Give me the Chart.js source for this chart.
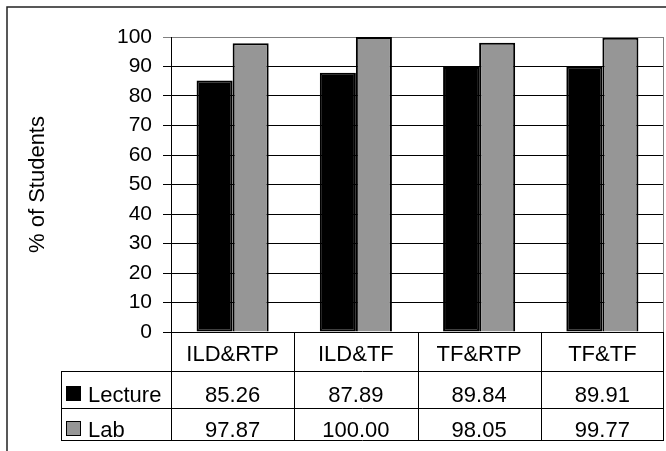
<!DOCTYPE html>
<html>
<head>
<meta charset="utf-8">
<script src="https://cdn.jsdelivr.net/npm/chart.js@4/dist/chart.umd.min.js"></script>
<style>
html,body{margin:0;padding:0;background:#fff}
#wrap{width:666px;height:451px;position:relative}
</style>
</head>
<body>
<div id="wrap"><canvas id="chart" width="666" height="451"></canvas></div>
<script>

const categories=["ILD&RTP","ILD&TF","TF&RTP","TF&TF"]
const lecture=[85.26,87.89,89.84,89.91]
const lab=[97.87,100.00,98.05,99.77]
const lectureText=["85.26","87.89","89.84","89.91"]
const labText=["97.87","100.00","98.05","99.77"]

const FONT="Arial, 'Liberation Sans', sans-serif"

// frame + data table under the plot
const tablePlugin={
id:"table",
afterDraw(chart){

const ctx=chart.ctx
const a=chart.chartArea
const x=chart.scales.x
const n=categories.length
const colW=(a.right-a.left)/n

const r0=a.bottom
const r1=r0+39
const r2=r1+37
const r3=r2+32
const tableLeft=61

ctx.save()

// outer frame (left + top)
ctx.strokeStyle="#222"
ctx.lineWidth=1.5
ctx.beginPath()
ctx.moveTo(7,451)
ctx.lineTo(7,7)
ctx.lineTo(666,7)
ctx.stroke()

// plot area right border
ctx.strokeStyle="#808080"
ctx.lineWidth=1
ctx.beginPath()
ctx.moveTo(a.right-0.5,a.top)
ctx.lineTo(a.right-0.5,a.bottom)
ctx.stroke()

// table lines
ctx.strokeStyle="#000"
ctx.lineWidth=1
ctx.beginPath()
for(let i=0;i<=n;i++){
let px=Math.round(a.left+i*colW)+0.5
if(i==n) px=a.right-0.5
ctx.moveTo(px,r0)
ctx.lineTo(px,r3)
}
ctx.moveTo(tableLeft+0.5,r1)
ctx.lineTo(tableLeft+0.5,r3)
ctx.moveTo(tableLeft,r1+0.5)
ctx.lineTo(a.right,r1+0.5)
ctx.moveTo(tableLeft,r2+0.5)
ctx.lineTo(a.right,r2+0.5)
ctx.moveTo(tableLeft,r3+0.5)
ctx.lineTo(a.right,r3+0.5)
ctx.stroke()

// texts
ctx.fillStyle="#000"
ctx.font="22px "+FONT
ctx.textAlign="center"
ctx.textBaseline="alphabetic"
for(let i=0;i<n;i++){
const cx=x.getPixelForValue(i)
ctx.fillText(categories[i],cx,r0+29)
ctx.fillText(lectureText[i],cx,r1+31)
ctx.fillText(labText[i],cx,r2+28.5)
}

// legend keys
const ds=chart.data.datasets
ctx.textAlign="left"
const keys=[[r1,ds[0],15,31],[r2,ds[1],13,28.5]]
keys.forEach(([top,d,ky,by])=>{
ctx.fillStyle=d.backgroundColor
ctx.fillRect(66,top+ky,15,15)
ctx.strokeStyle="#000"
ctx.lineWidth=1
ctx.strokeRect(66.5,top+ky+0.5,14,14)
ctx.fillStyle="#000"
ctx.fillText(d.label,88,top+by)
})

ctx.restore()

}
}

new Chart(document.getElementById("chart"),{
type:"bar",
data:{
labels:categories,
datasets:[
{label:"Lecture",data:lecture,backgroundColor:"#000000",borderColor:"#000000",borderWidth:2,borderSkipped:false},
{label:"Lab",data:lab,backgroundColor:"#969696",borderColor:"#000000",borderWidth:2,borderSkipped:"bottom"}
]
},
options:{
responsive:false,
animation:false,
devicePixelRatio:1,
layout:{padding:{left:0,top:37,right:2,bottom:119}},
categoryPercentage:0.585,
barPercentage:1,
plugins:{legend:{display:false},tooltip:{enabled:false}},
scales:{
x:{display:false},
y:{
min:0,
max:100,
afterFit(s){s.width=171},
ticks:{stepSize:10,color:"#000",font:{family:FONT,size:21},padding:11},
grid:{color:c=>c.tick&&c.tick.value==100?"#808080":"#000",lineWidth:1,tickLength:8},
border:{color:"#000",width:1},
title:{display:true,text:"% of Students",color:"#000",font:{family:FONT,size:22},padding:{top:25,bottom:0}}
}
}
},
plugins:[tablePlugin]
})

</script>
</body>
</html>
